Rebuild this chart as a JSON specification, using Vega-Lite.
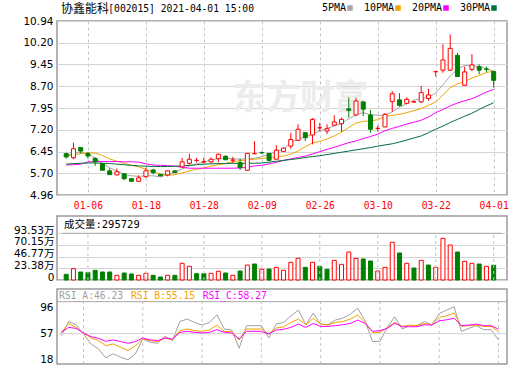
{
"$schema":"https://vega.github.io/schema/vega-lite/v6.json",
"background":"#ffffff",
"padding":{"left":12,"top":2,"right":2,"bottom":1},
"config":{"view":{"stroke":"#9a9a9a","strokeWidth":1.5},"font":"DejaVu Sans"},
"datasets":{"k":[
{"i":0,"d":"12-31","o":6.38,"h":6.41,"l":6.21,"c":6.27,"vol":11.4,"vd":"down","5PMA":6.32,"10PMA":6.30,"20PMA":5.99,"30PMA":6.02,"RSI_A":54,"RSI_B":59,"RSI_C":59},
{"i":1,"d":"01-04","o":6.24,"h":6.76,"l":6.19,"c":6.55,"vol":22.7,"vd":"up","5PMA":6.40,"10PMA":6.34,"20PMA":6.00,"30PMA":6.04,"RSI_A":75.3,"RSI_B":72.3,"RSI_C":66.4},
{"i":2,"d":"01-05","o":6.59,"h":6.60,"l":6.39,"c":6.47,"vol":16.0,"vd":"down","5PMA":6.42,"10PMA":6.38,"20PMA":6.02,"30PMA":6.05,"RSI_A":70.4,"RSI_B":66.4,"RSI_C":64.9},
{"i":3,"d":"01-06","o":6.38,"h":6.44,"l":6.21,"c":6.30,"vol":14.7,"vd":"down","5PMA":6.38,"10PMA":6.41,"20PMA":6.10,"30PMA":6.06,"RSI_A":56.5,"RSI_B":57.5,"RSI_C":58},
{"i":4,"d":"01-07","o":6.22,"h":6.25,"l":5.96,"c":6.10,"vol":19.4,"vd":"down","5PMA":6.22,"10PMA":6.40,"20PMA":6.11,"30PMA":6.06,"RSI_A":41.6,"RSI_B":50.6,"RSI_C":52.5},
{"i":5,"d":"01-08","o":6.04,"h":6.05,"l":5.80,"c":5.81,"vol":16.0,"vd":"down","5PMA":6.05,"10PMA":6.32,"20PMA":6.11,"30PMA":6.05,"RSI_A":34.2,"RSI_B":46.6,"RSI_C":50},
{"i":6,"d":"01-11","o":5.79,"h":5.88,"l":5.65,"c":5.66,"vol":16.0,"vd":"down","5PMA":5.90,"10PMA":6.20,"20PMA":6.11,"30PMA":6.04,"RSI_A":20.8,"RSI_B":39.1,"RSI_C":45.6},
{"i":7,"d":"01-12","o":5.65,"h":5.87,"l":5.64,"c":5.76,"vol":9.4,"vd":"up","5PMA":5.78,"10PMA":6.12,"20PMA":6.11,"30PMA":6.02,"RSI_A":26.8,"RSI_B":41.6,"RSI_C":47.6},
{"i":8,"d":"01-13","o":5.69,"h":5.70,"l":5.47,"c":5.52,"vol":14.0,"vd":"down","5PMA":5.67,"10PMA":6.05,"20PMA":6.10,"30PMA":6.00,"RSI_A":21.7,"RSI_B":36.6,"RSI_C":45.1},
{"i":9,"d":"01-14","o":5.52,"h":5.53,"l":5.42,"c":5.43,"vol":12.0,"vd":"down","5PMA":5.62,"10PMA":5.98,"20PMA":6.10,"30PMA":5.98,"RSI_A":17.8,"RSI_B":31.7,"RSI_C":42.6},
{"i":10,"d":"01-15","o":5.43,"h":5.63,"l":5.42,"c":5.55,"vol":9.4,"vd":"up","5PMA":5.60,"10PMA":5.93,"20PMA":6.09,"30PMA":5.96,"RSI_A":26.8,"RSI_B":39.1,"RSI_C":45.1},
{"i":11,"d":"01-18","o":5.59,"h":5.90,"l":5.55,"c":5.79,"vol":13.4,"vd":"up","5PMA":5.62,"10PMA":5.84,"20PMA":6.03,"30PMA":5.95,"RSI_A":49.1,"RSI_B":49.1,"RSI_C":50.6},
{"i":12,"d":"01-19","o":5.82,"h":5.86,"l":5.67,"c":5.73,"vol":9.4,"vd":"down","5PMA":5.62,"10PMA":5.76,"20PMA":5.99,"30PMA":5.94,"RSI_A":44.1,"RSI_B":46.6,"RSI_C":47.6},
{"i":13,"d":"01-20","o":5.67,"h":5.68,"l":5.60,"c":5.62,"vol":6.0,"vd":"down","5PMA":5.58,"10PMA":5.68,"20PMA":5.98,"30PMA":5.94,"RSI_A":42.6,"RSI_B":45.1,"RSI_C":46.6},
{"i":14,"d":"01-21","o":5.65,"h":5.80,"l":5.60,"c":5.79,"vol":9.4,"vd":"up","5PMA":5.66,"10PMA":5.64,"20PMA":5.97,"30PMA":5.94,"RSI_A":53.0,"RSI_B":50.6,"RSI_C":50.6},
{"i":15,"d":"01-22","o":5.79,"h":5.80,"l":5.72,"c":5.73,"vol":9.4,"vd":"down","5PMA":5.75,"10PMA":5.66,"20PMA":5.95,"30PMA":5.95,"RSI_A":46.6,"RSI_B":47.6,"RSI_C":49.1},
{"i":16,"d":"01-25","o":5.93,"h":6.24,"l":5.92,"c":6.10,"vol":33.4,"vd":"up","5PMA":5.85,"10PMA":5.72,"20PMA":5.91,"30PMA":5.96,"RSI_A":75.3,"RSI_B":61.5,"RSI_C":59},
{"i":17,"d":"01-26","o":6.05,"h":6.38,"l":6.00,"c":6.19,"vol":27.4,"vd":"up","5PMA":5.96,"10PMA":5.79,"20PMA":5.88,"30PMA":5.98,"RSI_A":78.9,"RSI_B":64,"RSI_C":60.5},
{"i":18,"d":"01-27","o":6.15,"h":6.24,"l":6.08,"c":6.15,"vol":12.7,"vd":"down","5PMA":6.03,"10PMA":5.84,"20PMA":5.88,"30PMA":6.00,"RSI_A":73.8,"RSI_B":61.5,"RSI_C":59},
{"i":19,"d":"01-28","o":6.10,"h":6.25,"l":6.04,"c":6.10,"vol":12.7,"vd":"down","5PMA":6.10,"10PMA":5.89,"20PMA":5.88,"30PMA":6.02,"RSI_A":69.9,"RSI_B":60.5,"RSI_C":58},
{"i":20,"d":"01-29","o":6.10,"h":6.25,"l":6.05,"c":6.19,"vol":13.4,"vd":"up","5PMA":6.16,"10PMA":5.95,"20PMA":5.88,"30PMA":6.03,"RSI_A":73.8,"RSI_B":62.5,"RSI_C":59},
{"i":21,"d":"02-01","o":6.21,"h":6.38,"l":6.08,"c":6.36,"vol":17.4,"vd":"up","5PMA":6.21,"10PMA":6.00,"20PMA":5.88,"30PMA":6.04,"RSI_A":85.3,"RSI_B":69.9,"RSI_C":63},
{"i":22,"d":"02-02","o":6.29,"h":6.33,"l":6.16,"c":6.17,"vol":14.0,"vd":"down","5PMA":6.22,"10PMA":6.05,"20PMA":5.88,"30PMA":6.04,"RSI_A":64,"RSI_B":60.5,"RSI_C":59},
{"i":23,"d":"02-03","o":6.16,"h":6.27,"l":6.06,"c":6.16,"vol":9.4,"vd":"up","5PMA":6.21,"10PMA":6.10,"20PMA":5.88,"30PMA":6.05,"RSI_A":62.5,"RSI_B":60,"RSI_C":58},
{"i":24,"d":"02-04","o":6.07,"h":6.21,"l":5.82,"c":5.90,"vol":18.0,"vd":"down","5PMA":6.19,"10PMA":6.14,"20PMA":5.89,"30PMA":6.05,"RSI_A":35.1,"RSI_B":47.6,"RSI_C":49.1},
{"i":25,"d":"02-05","o":5.81,"h":6.40,"l":5.80,"c":6.39,"vol":30.0,"vd":"up","5PMA":6.20,"10PMA":6.17,"20PMA":5.91,"30PMA":6.05,"RSI_A":68.9,"RSI_B":64,"RSI_C":60.5},
{"i":26,"d":"02-08","o":6.38,"h":6.81,"l":6.37,"c":6.38,"vol":32.0,"vd":"down","5PMA":6.22,"10PMA":6.19,"20PMA":5.96,"30PMA":6.05,"RSI_A":69,"RSI_B":64,"RSI_C":60.5},
{"i":27,"d":"02-09","o":6.42,"h":6.46,"l":6.37,"c":6.41,"vol":21.4,"vd":"up","5PMA":6.28,"10PMA":6.22,"20PMA":5.98,"30PMA":6.06,"RSI_A":69,"RSI_B":64,"RSI_C":60.5},
{"i":28,"d":"02-10","o":6.39,"h":6.40,"l":6.13,"c":6.15,"vol":22.0,"vd":"down","5PMA":6.36,"10PMA":6.24,"20PMA":6.03,"30PMA":6.09,"RSI_A":50.6,"RSI_B":56.5,"RSI_C":56.5},
{"i":29,"d":"02-18","o":6.19,"h":6.67,"l":6.18,"c":6.50,"vol":25.4,"vd":"up","5PMA":6.45,"10PMA":6.27,"20PMA":6.08,"30PMA":6.12,"RSI_A":71.4,"RSI_B":65.5,"RSI_C":62.5},
{"i":30,"d":"02-19","o":6.46,"h":6.60,"l":6.45,"c":6.57,"vol":19.4,"vd":"up","5PMA":6.53,"10PMA":6.30,"20PMA":6.15,"30PMA":6.15,"RSI_A":73.8,"RSI_B":67,"RSI_C":63.5},
{"i":31,"d":"02-22","o":6.64,"h":7.10,"l":6.55,"c":6.87,"vol":35.4,"vd":"up","5PMA":6.75,"10PMA":6.36,"20PMA":6.20,"30PMA":6.18,"RSI_A":83.8,"RSI_B":73.8,"RSI_C":66.4},
{"i":32,"d":"02-23","o":6.84,"h":7.39,"l":6.83,"c":7.22,"vol":43.4,"vd":"up","5PMA":6.88,"10PMA":6.47,"20PMA":6.25,"30PMA":6.21,"RSI_A":92.3,"RSI_B":78.9,"RSI_C":71.4},
{"i":33,"d":"02-24","o":7.10,"h":7.11,"l":6.82,"c":6.93,"vol":25.4,"vd":"down","5PMA":6.95,"10PMA":6.62,"20PMA":6.30,"30PMA":6.25,"RSI_A":70.4,"RSI_B":70.4,"RSI_C":66.4},
{"i":34,"d":"02-25","o":7.02,"h":7.60,"l":6.70,"c":7.56,"vol":35.4,"vd":"up","5PMA":7.05,"10PMA":6.75,"20PMA":6.37,"30PMA":6.28,"RSI_A":87.8,"RSI_B":79.9,"RSI_C":72.3},
{"i":35,"d":"02-26","o":7.27,"h":7.44,"l":7.15,"c":7.27,"vol":27.4,"vd":"down","5PMA":7.16,"10PMA":6.80,"20PMA":6.45,"30PMA":6.31,"RSI_A":71.4,"RSI_B":71.4,"RSI_C":67.9},
{"i":36,"d":"03-01","o":7.16,"h":7.39,"l":7.05,"c":7.24,"vol":21.4,"vd":"down","5PMA":7.25,"10PMA":6.88,"20PMA":6.53,"30PMA":6.35,"RSI_A":70.4,"RSI_B":69.9,"RSI_C":67.9},
{"i":37,"d":"03-02","o":7.36,"h":7.70,"l":7.34,"c":7.47,"vol":39.4,"vd":"up","5PMA":7.33,"10PMA":6.99,"20PMA":6.60,"30PMA":6.39,"RSI_A":77.4,"RSI_B":73.8,"RSI_C":69},
{"i":38,"d":"03-03","o":7.41,"h":7.62,"l":7.13,"c":7.56,"vol":31.4,"vd":"up","5PMA":7.42,"10PMA":7.12,"20PMA":6.68,"30PMA":6.43,"RSI_A":80.3,"RSI_B":75.3,"RSI_C":70.4},
{"i":39,"d":"03-04","o":7.92,"h":8.31,"l":7.62,"c":7.87,"vol":56.1,"vd":"up","5PMA":7.58,"10PMA":7.28,"20PMA":6.76,"30PMA":6.47,"RSI_A":86.3,"RSI_B":78.9,"RSI_C":72.3},
{"i":40,"d":"03-05","o":7.71,"h":8.30,"l":7.67,"c":8.19,"vol":43.4,"vd":"up","5PMA":7.72,"10PMA":7.43,"20PMA":6.82,"30PMA":6.51,"RSI_A":95.2,"RSI_B":84.8,"RSI_C":77.4},
{"i":41,"d":"03-08","o":8.16,"h":8.17,"l":7.67,"c":7.91,"vol":42.1,"vd":"down","5PMA":7.79,"10PMA":7.49,"20PMA":6.90,"30PMA":6.55,"RSI_A":76.3,"RSI_B":73.8,"RSI_C":72.3},
{"i":42,"d":"03-09","o":7.71,"h":7.88,"l":7.10,"c":7.22,"vol":38.1,"vd":"down","5PMA":7.72,"10PMA":7.50,"20PMA":6.97,"30PMA":6.59,"RSI_A":45.1,"RSI_B":59,"RSI_C":60.5},
{"i":43,"d":"03-10","o":7.25,"h":7.35,"l":7.15,"c":7.25,"vol":18.0,"vd":"up","5PMA":7.70,"10PMA":7.55,"20PMA":7.05,"30PMA":6.64,"RSI_A":45.6,"RSI_B":59,"RSI_C":61.5},
{"i":44,"d":"03-11","o":7.30,"h":7.78,"l":7.29,"c":7.73,"vol":25.4,"vd":"up","5PMA":7.70,"10PMA":7.66,"20PMA":7.17,"30PMA":6.68,"RSI_A":66.4,"RSI_B":66.4,"RSI_C":64.9},
{"i":45,"d":"03-12","o":8.17,"h":8.53,"l":7.82,"c":8.44,"vol":75.5,"vd":"up","5PMA":7.82,"10PMA":7.70,"20PMA":7.25,"30PMA":6.72,"RSI_A":82.3,"RSI_B":73.8,"RSI_C":72.8},
{"i":46,"d":"03-15","o":8.23,"h":8.46,"l":8.00,"c":8.04,"vol":54.1,"vd":"down","5PMA":7.97,"10PMA":7.73,"20PMA":7.32,"30PMA":6.78,"RSI_A":64,"RSI_B":67.9,"RSI_C":67.4},
{"i":47,"d":"03-16","o":8.11,"h":8.32,"l":8.08,"c":8.25,"vol":33.4,"vd":"up","5PMA":8.10,"10PMA":7.79,"20PMA":7.40,"30PMA":6.85,"RSI_A":69,"RSI_B":69.9,"RSI_C":67.4},
{"i":48,"d":"03-17","o":8.16,"h":8.20,"l":8.13,"c":8.16,"vol":24.0,"vd":"down","5PMA":8.22,"10PMA":7.86,"20PMA":7.46,"30PMA":6.92,"RSI_A":69,"RSI_B":69,"RSI_C":67.4},
{"i":49,"d":"03-18","o":8.16,"h":8.71,"l":8.12,"c":8.48,"vol":39.4,"vd":"up","5PMA":8.28,"10PMA":7.93,"20PMA":7.53,"30PMA":6.99,"RSI_A":75.3,"RSI_B":72.3,"RSI_C":70.4},
{"i":50,"d":"03-19","o":8.28,"h":8.61,"l":8.20,"c":8.40,"vol":30.0,"vd":"down","5PMA":8.31,"10PMA":8.04,"20PMA":7.64,"30PMA":7.10,"RSI_A":70.4,"RSI_B":70.4,"RSI_C":69.9},
{"i":51,"d":"03-22","o":9.20,"h":9.22,"l":9.03,"c":9.20,"vol":25.4,"vd":"up","5PMA":8.46,"10PMA":8.16,"20PMA":7.79,"30PMA":7.22,"RSI_A":87.2,"RSI_B":81.3,"RSI_C":76.3},
{"i":52,"d":"03-23","o":9.25,"h":10.14,"l":9.16,"c":9.60,"vol":83.5,"vd":"up","5PMA":8.75,"10PMA":8.40,"20PMA":7.90,"30PMA":7.33,"RSI_A":92.3,"RSI_B":83.8,"RSI_C":77.8},
{"i":53,"d":"03-24","o":9.25,"h":10.48,"l":9.22,"c":10.00,"vol":70.1,"vd":"up","5PMA":9.05,"10PMA":8.65,"20PMA":8.02,"30PMA":7.45,"RSI_A":97.2,"RSI_B":87.8,"RSI_C":80.3},
{"i":54,"d":"03-25","o":9.76,"h":9.84,"l":9.02,"c":9.03,"vol":56.1,"vd":"down","5PMA":9.28,"10PMA":8.78,"20PMA":8.12,"30PMA":7.56,"RSI_A":60.5,"RSI_B":67.9,"RSI_C":69},
{"i":55,"d":"03-26","o":8.73,"h":9.37,"l":8.72,"c":9.19,"vol":37.4,"vd":"up","5PMA":9.41,"10PMA":8.86,"20PMA":8.20,"30PMA":7.67,"RSI_A":64.9,"RSI_B":69,"RSI_C":69.9},
{"i":56,"d":"03-29","o":9.28,"h":9.80,"l":9.22,"c":9.43,"vol":33.4,"vd":"up","5PMA":9.40,"10PMA":8.98,"20PMA":8.27,"30PMA":7.77,"RSI_A":69,"RSI_B":69.9,"RSI_C":71.4},
{"i":57,"d":"03-30","o":9.37,"h":9.45,"l":9.11,"c":9.25,"vol":32.0,"vd":"down","5PMA":9.38,"10PMA":9.07,"20PMA":8.38,"30PMA":7.90,"RSI_A":63,"RSI_B":67.9,"RSI_C":69},
{"i":58,"d":"03-31","o":9.29,"h":9.37,"l":9.18,"c":9.28,"vol":27.4,"vd":"up","5PMA":9.30,"10PMA":9.17,"20PMA":8.50,"30PMA":8.02,"RSI_A":63,"RSI_B":67.9,"RSI_C":69},
{"i":59,"d":"04-01","o":9.20,"h":9.22,"l":8.65,"c":8.90,"vol":29.57,"vd":"down","5PMA":9.22,"10PMA":9.22,"20PMA":8.59,"30PMA":8.13,"RSI_A":47.6,"RSI_B":60.5,"RSI_C":64}
]},
"bounds":"flush",
"spacing":21,
"vconcat":[
{
 "width":450,"height":174,
 "layer":[
  {"data":{"values":[{"t":"东方财富","i":32.3,"p":8.25}]},"mark":{"type":"text","font":"Noto Sans CJK SC","fontSize":34,"fontWeight":"bold","color":"#ececec","align":"center","baseline":"middle"},
   "encoding":{"x":{"field":"i","type":"quantitative"},"y":{"field":"p","type":"quantitative"},"text":{"field":"t","type":"nominal"}}},
  {"data":{"name":"k"},"transform":[{"fold":["5PMA","10PMA","20PMA","30PMA"],"as":["ma","v"]}],
   "mark":{"type":"line","strokeWidth":1},
   "encoding":{
     "x":{"field":"i","type":"quantitative","scale":{"domain":[-0.58,60.15],"nice":false,"zero":false},
       "axis":{"values":[3,11,19,27,35,43,51,59],"tickCount":20,"labelExpr":"['01-06','01-18','01-28','02-09','02-26','03-10','03-22','04-01'][(datum.value-3)/8]","title":null,"ticks":false,"domain":false,"grid":true,"gridDash":[3,3],"gridColor":"#c4c4c4","labelColor":"#ff0000","labelFont":"DejaVu Sans Mono","labelFontSize":9.7,"labelPadding":5,"labelOverlap":false,"labelFlush":false}},
     "y":{"field":"v","type":"quantitative","scale":{"domain":[4.96,10.94],"nice":false,"zero":false},
       "axis":{"values":[4.96,5.7,6.45,7.2,7.95,8.7,9.45,10.2,10.94],"tickCount":20,"format":".2f","title":null,"ticks":false,"domain":false,"grid":true,"gridColor":"#d4d4d4","labelFont":"DejaVu Sans","labelFontSize":10.5,"labelColor":"#000000","labelPadding":4,"labelOverlap":false}},
     "color":{"field":"ma","type":"nominal","scale":{"domain":["5PMA","10PMA","20PMA","30PMA"],"range":["#a6a6a6","#f5a300","#ff00ff","#00703a"]},
       "legend":{"orient":"none","legendX":288,"legendY":-18,"direction":"horizontal","title":null,"symbolType":"square","symbolSize":4,"symbolStrokeWidth":3.5,"labelAlign":"right","labelOffset":-9,"labelFont":"DejaVu Sans Mono","labelFontSize":10,"labelColor":"#000000","columnPadding":5,"padding":0}}}},
  {"data":{"name":"k"},"mark":{"type":"rule","strokeWidth":1},
   "encoding":{"x":{"field":"i","type":"quantitative"},"y":{"field":"l","type":"quantitative","title":null},"y2":{"field":"h"},
     "color":{"condition":{"test":"datum.c >= datum.o","value":"#ff0000"},"value":"#008000"}}},
  {"data":{"name":"k"},"mark":{"type":"bar","width":4,"strokeWidth":1},
   "encoding":{"x":{"field":"i","type":"quantitative"},"y":{"field":"o","type":"quantitative","title":null},"y2":{"field":"c"},
     "fill":{"condition":{"test":"datum.c >= datum.o","value":"#ffffff"},"value":"#008000"},
     "stroke":{"condition":{"test":"datum.c >= datum.o","value":"#ff0000"},"value":"#008000"}}},
  {"data":{"values":[{"t":"协鑫能科","i":-0.715,"p":11.352}]},"mark":{"type":"text","font":"Noto Sans CJK SC","fontSize":12,"align":"left","baseline":"middle","color":"#000000"},
   "encoding":{"x":{"field":"i","type":"quantitative"},"y":{"field":"p","type":"quantitative"},"text":{"field":"t","type":"nominal"}}},
  {"data":{"values":[{"t":"[002015] 2021-04-01 15:00","i":5.8,"p":11.352}]},"mark":{"type":"text","font":"DejaVu Sans Mono","fontSize":9.7,"align":"left","baseline":"middle","color":"#000000"},
   "encoding":{"x":{"field":"i","type":"quantitative"},"y":{"field":"p","type":"quantitative"},"text":{"field":"t","type":"nominal"}}}
 ]
},
{
 "bounds":"flush",
 "spacing":9,
 "vconcat":[
 {
  "width":450,"height":64,
  "layer":[
   {"data":{"name":"k"},"mark":{"type":"bar","width":4,"strokeWidth":1},
    "encoding":{"x":{"field":"i","type":"quantitative","scale":{"domain":[-0.58,60.15],"nice":false,"zero":false},"axis":null},
      "y":{"field":"vol","type":"quantitative","scale":{"domain":[0,128.2],"nice":false,"zero":false},
      "axis":{"values":[0,23.38,46.77,70.15,93.53],"tickCount":20,"labelExpr":"datum.value == 0 ? '0' : format(datum.value, '.2f') + '万'","title":null,"ticks":false,"domain":false,"grid":true,"gridColor":"#d4d4d4","labelFont":"DejaVu Sans, Noto Sans CJK SC","labelFontSize":10.5,"labelColor":"#000000","labelPadding":3,"labelOffset":-3,"labelOverlap":false}},
      "fill":{"condition":{"test":"datum.vd == 'up'","value":"#ffffff"},"value":"#008000"},
      "stroke":{"condition":{"test":"datum.vd == 'up'","value":"#ff0000"},"value":"#008000"}}},
   {"data":{"name":"k"},"transform":[{"filter":{"field":"d","oneOf":["01-06","01-18","01-28","02-09","02-26","03-10","03-22","04-01"]}}],
    "mark":{"type":"rule","strokeDash":[3,3],"color":"#c4c4c4"},
    "encoding":{"x":{"field":"i","type":"quantitative"},"y":{"datum":0,"type":"quantitative","title":null},"y2":{"datum":93.53}}},
   {"data":{"values":[{}]},"mark":{"type":"rule","color":"#a8a8a8"},
    "encoding":{"x":{"datum":-0.58,"type":"quantitative"},"x2":{"datum":60.15},"y":{"datum":93.53,"type":"quantitative"}}},
   {"data":{"values":[{"t":"成交量:295729","i":-0.31,"p":110.5}]},"mark":{"type":"text","font":"DejaVu Sans Mono, Noto Sans CJK SC","fontSize":10.5,"align":"left","baseline":"middle","color":"#000000"},
    "encoding":{"x":{"field":"i","type":"quantitative"},"y":{"field":"p","type":"quantitative"},"text":{"field":"t","type":"nominal"}}}
  ]
 },
 {
  "width":450,"height":75,
  "layer":[
   {"data":{"name":"k"},"mark":{"type":"line","strokeWidth":1,"color":"#a0a0a0"},
    "encoding":{"x":{"field":"i","type":"quantitative","scale":{"domain":[-0.58,60.15],"nice":false,"zero":false},"axis":null},
      "y":{"field":"RSI_A","type":"quantitative","scale":{"domain":[11.5,124],"nice":false,"zero":false},
      "axis":{"values":[18,57,96],"tickCount":20,"title":null,"ticks":false,"domain":false,"grid":false,"labelFont":"DejaVu Sans","labelFontSize":10.5,"labelColor":"#000000","labelPadding":4,"labelOverlap":false,"labelBound":false}}}},
   {"data":{"name":"k"},"transform":[{"filter":{"field":"d","oneOf":["01-06","01-18","01-28","02-09","02-26","03-10","03-22","04-01"]}}],
    "mark":{"type":"rule","strokeDash":[3,3],"color":"#c4c4c4"},
    "encoding":{"x":{"field":"i","type":"quantitative"},"y":{"datum":11.5,"type":"quantitative","title":null},"y2":{"datum":105}}},
   {"data":{"values":[{}]},"mark":{"type":"rule","color":"#d0d0d0"},
    "encoding":{"x":{"datum":-0.58,"type":"quantitative"},"x2":{"datum":60.15},"y":{"datum":57,"type":"quantitative"}}},
   {"data":{"values":[{}]},"mark":{"type":"rule","color":"#a8a8a8"},
    "encoding":{"x":{"datum":-0.58,"type":"quantitative"},"x2":{"datum":60.15},"y":{"datum":105,"type":"quantitative"}}},
   {"data":{"name":"k"},"mark":{"type":"line","strokeWidth":1,"color":"#f5a300"},"encoding":{"x":{"field":"i","type":"quantitative"},"y":{"field":"RSI_B","type":"quantitative","title":null}}},
   {"data":{"name":"k"},"mark":{"type":"line","strokeWidth":1,"color":"#ff00ff"},"encoding":{"x":{"field":"i","type":"quantitative"},"y":{"field":"RSI_C","type":"quantitative","title":null}}},
   {"data":{"values":[{"t":"RSI_A:46.23","i":-0.31,"p":114}]},"mark":{"type":"text","font":"DejaVu Sans Mono","fontSize":9.7,"align":"left","baseline":"middle","color":"#a0a0a0"},
    "encoding":{"x":{"field":"i","type":"quantitative"},"y":{"field":"p","type":"quantitative"},"text":{"field":"t","type":"nominal"}}},
   {"data":{"values":[{"t":"RSI_B:55.15","i":9.41,"p":114}]},"mark":{"type":"text","font":"DejaVu Sans Mono","fontSize":9.7,"align":"left","baseline":"middle","color":"#f5a300"},
    "encoding":{"x":{"field":"i","type":"quantitative"},"y":{"field":"p","type":"quantitative"},"text":{"field":"t","type":"nominal"}}},
   {"data":{"values":[{"t":"RSI_C:58.27","i":19.08,"p":114}]},"mark":{"type":"text","font":"DejaVu Sans Mono","fontSize":9.7,"align":"left","baseline":"middle","color":"#ff00ff"},
    "encoding":{"x":{"field":"i","type":"quantitative"},"y":{"field":"p","type":"quantitative"},"text":{"field":"t","type":"nominal"}}}
  ]
 }
 ]
}
]
}
